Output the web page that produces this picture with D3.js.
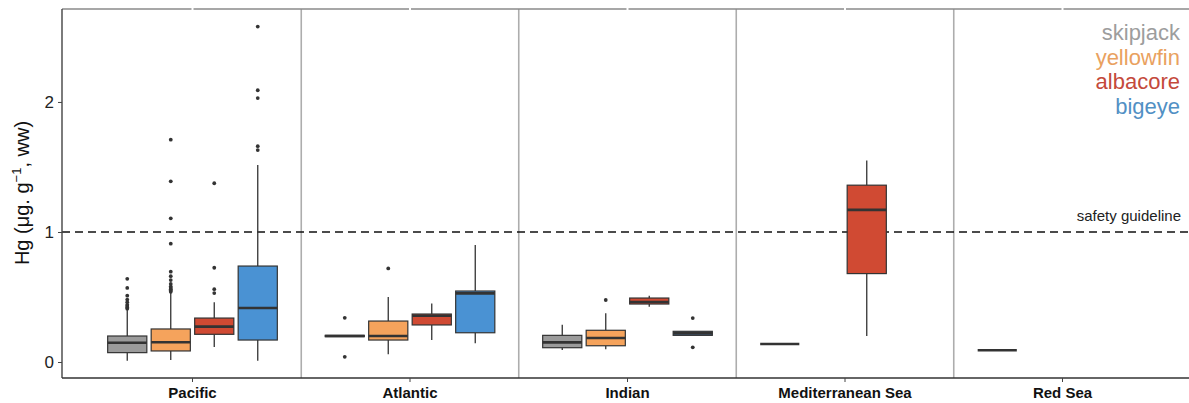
<!DOCTYPE html>
<html><head><meta charset="utf-8">
<script src="https://cdn.jsdelivr.net/npm/d3@7"></script>
<style>body{margin:0;background:#fff;}svg{display:block;font-family:"Liberation Sans",Arial,sans-serif;}</style>
</head><body>
<svg id="c" width="1189" height="403"></svg>
<script>
const oceans = ["Pacific","Atlantic","Indian","Mediterranean Sea","Red Sea"];
const species = ["skipjack","yellowfin","albacore","bigeye"];
const fills = {skipjack:"#9b9b9b", yellowfin:"#f5a35c", albacore:"#d04a33", bigeye:"#4a92d3"};
const legendColors = {skipjack:"#9d9d9d", yellowfin:"#e9a15f", albacore:"#c4493b", bigeye:"#5190c4"};
const yTicks = [0,1,2];
const guideline = 1;
// box stats: [ocean, species, whiskerLow, q1, median, q3, whiskerHigh]
const boxes = [
  ["Pacific","skipjack",0.01,0.072,0.148,0.20,0.40],
  ["Pacific","yellowfin",0.015,0.085,0.152,0.254,0.53],
  ["Pacific","albacore",0.115,0.213,0.272,0.338,0.46],
  ["Pacific","bigeye",0.01,0.169,0.415,0.738,1.515],
  ["Atlantic","skipjack",0.2,0.195,0.2,0.205,0.2],
  ["Atlantic","yellowfin",0.06,0.169,0.20,0.315,0.50],
  ["Atlantic","albacore",0.17,0.285,0.356,0.369,0.45],
  ["Atlantic","bigeye",0.144,0.225,0.528,0.546,0.90],
  ["Indian","skipjack",0.092,0.11,0.151,0.205,0.287],
  ["Indian","yellowfin",0.098,0.125,0.185,0.244,0.375],
  ["Indian","albacore",0.425,0.446,0.462,0.492,0.51],
  ["Indian","bigeye",0.205,0.205,0.22,0.236,0.236],
  ["Mediterranean Sea","skipjack",0.138,0.138,0.138,0.138,0.138],
  ["Mediterranean Sea","albacore",0.20,0.68,1.17,1.36,1.55],
  ["Red Sea","skipjack",0.09,0.09,0.09,0.09,0.09]
];
// outliers: [ocean, species, values]
const outliers = [
  ["Pacific","skipjack",[0.64,0.57,0.51,0.48,0.46,0.44,0.43,0.42,0.41]],
  ["Pacific","yellowfin",[1.71,1.39,1.105,0.91,0.695,0.66,0.63,0.60,0.58,0.57,0.56,0.55,0.54]],
  ["Pacific","albacore",[1.375,0.725,0.56,0.53]],
  ["Pacific","bigeye",[2.58,2.09,2.03,1.66,1.63]],
  ["Atlantic","skipjack",[0.34,0.04]],
  ["Atlantic","yellowfin",[0.72]],
  ["Indian","yellowfin",[0.477]],
  ["Indian","bigeye",[0.338,0.113]]
];

const svg = d3.select("#c");
const L=62, T=9, B=378;
const x = d3.scaleBand().domain(oceans).range([L,1193]).paddingInner(0).paddingOuter(0.1);
const xs = d3.scaleBand().domain(species).range([0,x.bandwidth()]).paddingInner(0.1).paddingOuter(0.55);
const y = d3.scaleLinear().domain([-0.123,2.715]).range([B,T]);

// separators
const sepG = svg.append("g");
oceans.slice(1).forEach(o=>{
  sepG.append("line").attr("x1",x(o)).attr("x2",x(o)).attr("y1",T).attr("y2",B)
    .attr("stroke","#adadad").attr("stroke-width",1.6);
});
// top border
svg.append("line").attr("x1",L).attr("x2",1189).attr("y1",T).attr("y2",T).attr("stroke","#8a8a8a").attr("stroke-width",1.4);
oceans.forEach(o=>{
  const cx=x(o)+x.bandwidth()/2;
  svg.append("line").attr("x1",cx).attr("x2",cx).attr("y1",T-1).attr("y2",T+1).attr("stroke","#fff").attr("stroke-width",2);
});

// guideline
svg.append("line").attr("x1",L).attr("x2",1189).attr("y1",y(guideline)).attr("y2",y(guideline))
  .attr("stroke","#111").attr("stroke-width",1.6).attr("stroke-dasharray","8,5");
svg.append("text").attr("x",1181).attr("y",y(guideline)-11).attr("text-anchor","end")
  .attr("font-size",15).attr("fill","#222").text("safety guideline");

// boxes
const bw = xs.bandwidth();
const bg = svg.append("g");
boxes.forEach(b=>{
  const [o,s,lo,q1,md,q3,hi]=b;
  const x0 = x(o)+xs(s), cx = x0+bw/2;
  bg.append("line").attr("x1",cx).attr("x2",cx).attr("y1",y(hi)).attr("y2",y(q3)).attr("stroke","#333").attr("stroke-width",1.3);
  bg.append("line").attr("x1",cx).attr("x2",cx).attr("y1",y(q1)).attr("y2",y(lo)).attr("stroke","#333").attr("stroke-width",1.3);
  bg.append("rect").attr("x",x0).attr("width",bw).attr("y",y(q3)).attr("height",Math.max(0,y(q1)-y(q3)))
    .attr("fill",fills[s]).attr("stroke","#333").attr("stroke-width",1.2);
  bg.append("line").attr("x1",x0).attr("x2",x0+bw).attr("y1",y(md)).attr("y2",y(md)).attr("stroke","#333").attr("stroke-width",2.6);
});
outliers.forEach(ol=>{
  const [o,s,vals]=ol;
  const cx = x(o)+xs(s)+bw/2;
  vals.forEach(v=>bg.append("circle").attr("cx",cx).attr("cy",y(v)).attr("r",1.9).attr("fill","#333"));
});

// axes
const yAxis = svg.append("g").attr("transform",`translate(${L},0)`)
  .call(d3.axisLeft(y).tickValues(yTicks).tickSize(4).tickPadding(4).tickFormat(d3.format("d")));
yAxis.select(".domain").attr("stroke","#444").attr("stroke-width",1.4).attr("d",`M0,${T}V${B}`);
yAxis.selectAll(".tick line").attr("stroke","#444");
yAxis.selectAll(".tick text").attr("font-size",17).attr("fill","#222").attr("font-family","Liberation Sans,Arial,sans-serif");

const xAxis = svg.append("g").attr("transform",`translate(0,${B})`)
  .call(d3.axisBottom(x).tickSize(4).tickPadding(5));
xAxis.select(".domain").attr("stroke","#333").attr("stroke-width",1.4).attr("d",`M${L},0H1189`);
xAxis.selectAll(".tick line").attr("stroke","#444");
xAxis.selectAll(".tick text").attr("font-size",15).attr("font-weight","bold").attr("fill","#111").attr("font-family","Liberation Sans,Arial,sans-serif");

// y title
const yt = svg.append("text").attr("transform",`translate(29,193) rotate(-90)`).attr("text-anchor","middle")
  .attr("font-size",20).attr("fill","#111");
yt.append("tspan").text("Hg (μg. g");
yt.append("tspan").attr("dy",-8).attr("font-size",13).text("−1");
yt.append("tspan").attr("dy",8).text(", ww)");

// legend
species.forEach((s,i)=>{
  svg.append("text").attr("x",1180).attr("y",40+i*24.5).attr("text-anchor","end")
    .attr("font-size",22).attr("fill",legendColors[s]).text(s);
});
</script>
</body></html>
